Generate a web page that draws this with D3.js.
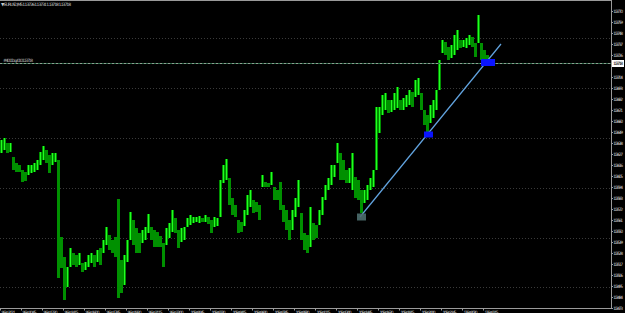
<!DOCTYPE html>
<html><head><meta charset="utf-8">
<script src="https://cdn.jsdelivr.net/npm/d3@7"></script>
<style>body{margin:0;background:#000;overflow:hidden}svg{display:block}</style>
</head><body>
<svg id="c" width="625" height="313"></svg>
<script>
// ---- data ----
const highs = [1.13641,1.13643,1.13638,1.13638,1.13624,1.13618,1.13616,1.13611,1.13609,1.13616,1.13616,1.13618,1.13621,1.13629,1.13635,1.13631,1.13626,1.13628,1.13628,1.13621,
1.13544,1.13524,1.13514,1.13533,1.13528,1.13526,1.13528,1.13518,1.13519,1.13526,1.13528,1.13526,1.13531,1.13533,1.13541,1.13554,1.13546,1.13541,1.13544,1.13582,
1.13521,1.13526,1.13541,1.13569,1.13561,1.13553,1.13548,1.13551,1.13554,1.13567,1.13554,1.13551,1.13549,1.13545,1.13538,1.13553,1.13558,1.13571,1.13563,1.13551,
1.13553,1.13554,1.13563,1.13566,1.13564,1.13564,1.13565,1.13563,1.13566,1.13564,1.13561,1.13564,1.13563,1.13601,1.13616,1.13622,1.13603,1.13583,1.13576,1.13561,
1.13559,1.13571,1.13586,1.13591,1.13581,1.13579,1.13576,1.13606,1.13599,1.13598,1.13609,1.13594,1.13591,1.13599,1.13576,1.13571,1.13561,1.13571,1.13583,1.13601,
1.13568,1.13548,1.13546,1.13574,1.13558,1.13556,1.13571,1.13584,1.13596,1.13603,1.13616,1.13616,1.13638,1.13628,1.13621,1.13611,1.13613,1.13628,1.13604,1.13601,
1.13591,1.13591,1.13596,1.13603,1.13611,1.13674,1.13674,1.13686,1.13688,1.13681,1.13681,1.13688,1.13694,1.13681,1.13683,1.13686,1.13691,1.13689,1.13701,1.13703,
1.13688,1.13671,1.13666,1.13676,1.13681,1.13691,1.13721,1.13741,1.13739,1.13734,1.13736,1.13746,1.13751,1.13741,1.13741,1.13743,1.13746,1.13744,1.13738,1.13766,
1.13738,1.13731,1.13726];
const lows = [1.13628,1.13631,1.13628,1.13629,1.13611,1.13609,1.13609,1.13599,1.13600,1.13606,1.13608,1.13609,1.13611,1.13616,1.13621,1.13618,1.13608,1.13616,1.13619,1.13503,
1.13513,1.13481,1.13494,1.13514,1.13516,1.13514,1.13516,1.13509,1.13511,1.13514,1.13518,1.13514,1.13519,1.13516,1.13528,1.13536,1.13531,1.13528,1.13524,1.13483,
1.13488,1.13496,1.13519,1.13541,1.13536,1.13528,1.13528,1.13538,1.13541,1.13548,1.13541,1.13534,1.13534,1.13534,1.13514,1.13536,1.13543,1.13549,1.13548,1.13533,
1.13539,1.13541,1.13554,1.13556,1.13558,1.13559,1.13558,1.13559,1.13559,1.13557,1.13548,1.13554,1.13555,1.13564,1.13598,1.13601,1.13576,1.13566,1.13564,1.13548,
1.13549,1.13555,1.13566,1.13574,1.13568,1.13569,1.13561,1.13594,1.13594,1.13594,1.13596,1.13581,1.13581,1.13571,1.13559,1.13551,1.13541,1.13551,1.13564,1.13574,
1.13541,1.13531,1.13528,1.13534,1.13541,1.13543,1.13556,1.13566,1.13581,1.13591,1.13596,1.13604,1.13618,1.13601,1.13601,1.13598,1.13598,1.13591,1.13583,1.13581,
1.13568,1.13578,1.13581,1.13591,1.13594,1.13611,1.13648,1.13666,1.13671,1.13668,1.13669,1.13671,1.13673,1.13671,1.13671,1.13674,1.13676,1.13674,1.13684,1.13686,
1.13671,1.13656,1.13648,1.13658,1.13663,1.13671,1.13691,1.13728,1.13726,1.13721,1.13723,1.13726,1.13731,1.13733,1.13734,1.13733,1.13736,1.13734,1.13724,1.13738,
1.13721,1.13719,1.13718];
const timeLabels = ["9 Sep 2021","9 Sep 10:45","9 Sep 12:30","9 Sep 14:15","9 Sep 16:00","9 Sep 17:45","9 Sep 19:30","9 Sep 21:15",
"9 Sep 23:00","10 Sep 00:45","10 Sep 02:30","10 Sep 04:15","10 Sep 06:00","10 Sep 07:45","10 Sep 09:30","10 Sep 11:15",
"10 Sep 13:00","10 Sep 14:45","10 Sep 16:30","10 Sep 18:15","10 Sep 20:00","10 Sep 21:45","13 Sep 00:30","13 Sep 02:15"];
const timeLabelBars = [0,7,14,21,28,35,42,49,56,63,70,77,84,91,98,105,112,119,126,133,140,147,154,161];
const priceTicks = [1.13770,1.13759,1.13748,1.13737,1.13726,1.13715,1.13704,1.13693,1.13682,1.13671,1.13660,1.13649,1.13638,1.13627,
1.13616,1.13605,1.13594,1.13583,1.13572,1.13561,1.13550,1.13539,1.13528,1.13517,1.13506,1.13495,1.13484,1.13473];
const gridLevels = [1.13743,1.13693,1.13643,1.13593,1.13543,1.13494];
const bidPrice = 1.13718;
const trendBars = [120, 167];
const trendPrices = [1.13564, 1.13737];
const markerBars = [120.5, 142.83, 162.67];
const markerPrices = [1.13564, 1.136465, 1.137185];
const titleText = "▼ EURUSD,M5  1.13726 1.13731 1.13718 1.13718";
const orderText = "#4011 buy 0.10 1.13718";

// ---- drawing ----
const W = 625, H = 313, axisX = 611, axisY = 308.5;
const svg = d3.select("#c");
svg.append("rect").attr("width", W).attr("height", H).attr("fill", "#000");

const x = d3.scaleLinear().domain([0, highs.length - 1]).range([0, 486]);
const y = d3.scaleLinear().domain([1.13781, 1.13468]).range([0, 313]);
const font = "DejaVu Sans";

// grid
svg.append("g").selectAll("line").data(gridLevels).join("line")
  .attr("x1", 0).attr("x2", axisX).attr("y1", d => Math.round(y(d)) + 0.5).attr("y2", d => Math.round(y(d)) + 0.5)
  .attr("stroke", "#3a3a3a").attr("stroke-dasharray", "1,2");

// bars
const bars = d3.range(highs.length).map(i => ({i, h: highs[i], l: lows[i],
  up: i === 0 ? true : (highs[i] + lows[i]) >= (highs[i-1] + lows[i-1])}));
const gb = svg.append("g");
gb.selectAll("rect").data(bars).join("rect")
  .attr("x", d => x(d.i)).attr("width", 3)
  .attr("y", d => y(d.h)).attr("height", d => Math.max(1, y(d.l) - y(d.h)))
  .attr("fill", "#009000");
gb.selectAll("line").data(bars.filter(d => d.up)).join("line")
  .attr("x1", d => x(d.i) + 1.5).attr("x2", d => x(d.i) + 1.5)
  .attr("y1", d => y(d.h)).attr("y2", d => y(d.l))
  .attr("stroke", "#22ff22").attr("stroke-width", 1);

// bid line
const by = Math.round(y(bidPrice)) + 0.5;
svg.append("line").attr("x1", 0).attr("x2", axisX).attr("y1", by).attr("y2", by)
  .attr("stroke", "#2f6a4a").attr("stroke-width", 1);
svg.append("line").attr("x1", 0).attr("x2", axisX).attr("y1", by).attr("y2", by)
  .attr("stroke", "#8e9e92").attr("stroke-width", 1).attr("stroke-dasharray", "2,2");
svg.append("text").attr("x", 3).attr("y", by - 2).attr("fill", "#b8b8b8")
  .attr("font-family", font).attr("font-size", 4.5).attr("textLength", 30).text(orderText);

// trend line
svg.append("line")
  .attr("x1", x(trendBars[0])).attr("y1", y(trendPrices[0]))
  .attr("x2", x(trendBars[1])).attr("y2", y(trendPrices[1]))
  .attr("stroke", "#62a4e0").attr("stroke-width", 1.2);

// markers
const mk = [{w: 9, h: 7, fill: "#4d6e6e", op: 0.9}, {w: 9, h: 6, fill: "#0a14ff", op: 1}, {w: 14, h: 7, fill: "#0a14ff", op: 1}];
svg.append("g").selectAll("rect").data(mk).join("rect")
  .attr("x", (d, i) => x(markerBars[i]) - d.w / 2).attr("y", (d, i) => y(markerPrices[i]) - d.h / 2)
  .attr("width", d => d.w).attr("height", d => d.h).attr("fill", d => d.fill).attr("opacity", d => d.op);

// frame
svg.append("line").attr("x1", 0).attr("x2", axisX).attr("y1", 0.5).attr("y2", 0.5).attr("stroke", "#9a9a9a");
svg.append("line").attr("x1", axisX + 0.5).attr("x2", axisX + 0.5).attr("y1", 0).attr("y2", axisY).attr("stroke", "#9a9a9a");
svg.append("line").attr("x1", 0).attr("x2", axisX + 1).attr("y1", axisY).attr("y2", axisY).attr("stroke", "#9a9a9a");

// y axis ticks & labels
const yt = svg.append("g");
priceTicks.forEach(p => {
  const py = Math.round(y(p)) + 0.5;
  if (Math.abs(py - by) < 6) return;
  yt.append("line").attr("x1", axisX).attr("x2", axisX + 2).attr("y1", py).attr("y2", py).attr("stroke", "#9a9a9a");
  yt.append("text").attr("x", 613).attr("y", py + 1.6).attr("fill", "#c8c8c8")
    .attr("font-family", font).attr("font-size", 4.5).attr("textLength", 10).text(p.toFixed(5));
});
// bid price box
svg.append("rect").attr("x", 612).attr("y", by - 3.5).attr("width", 12).attr("height", 7).attr("fill", "#ffffff");
svg.append("text").attr("x", 613).attr("y", by + 1.6).attr("fill", "#000")
  .attr("font-family", font).attr("font-size", 4.5).attr("textLength", 10).text(bidPrice.toFixed(5));

// x axis ticks & labels
const xt = svg.append("g");
timeLabelBars.forEach((b, k) => {
  const px = Math.round(x(b)) + 0.5;
  xt.append("line").attr("x1", px).attr("x2", px).attr("y1", axisY).attr("y2", axisY + 2).attr("stroke", "#9a9a9a");
  xt.append("text").attr("x", px + 1).attr("y", 313.5).attr("fill", "#c8c8c8")
    .attr("font-family", font).attr("font-size", 4.5).attr("textLength", 14).text(timeLabels[k]);
});

// title
svg.append("text").attr("x", 1).attr("y", 5.5).attr("fill", "#c8c8c8")
  .attr("font-family", font).attr("font-size", 4.5).attr("textLength", 70).text(titleText);
</script>
</body></html>
